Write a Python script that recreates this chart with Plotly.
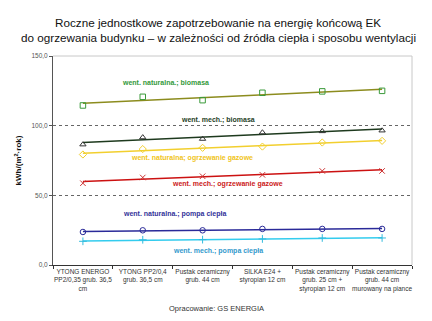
import numpy as np
import plotly.graph_objects as go

categories = [
    "YTONG ENERGO<br>PP2/0,35 grub. 36,5<br>cm",
    "YTONG PP2/0,4<br>grub. 36,5 cm",
    "Pustak ceramiczny<br>grub. 44 cm",
    "SILKA E24 +<br>styropian 12 cm",
    "Pustak ceramiczny<br>grub. 25 cm +<br>styropian 12 cm",
    "Pustak ceramiczny<br>grub. 44 cm<br>murowany na piance",
]

nat_biomasa = [114.5, 120.7, 118.3, 123.6, 124.6, 125.0]
mech_biomasa = [86.5, 91.6, 90.5, 95.1, 96.0, 96.5]
nat_gaz = [79.3, 83.2, 84.1, 85.0, 87.9, 89.1]
mech_gaz = [58.7, 62.8, 63.7, 64.7, 67.5, 67.5]
nat_pompa = [23.7, 24.9, 24.9, 25.9, 25.9, 25.9]
mech_pompa = [17.0, 18.1, 18.2, 18.7, 19.4, 19.4]

title_lines = [
    "Roczne jednostkowe zapotrzebowanie na energię końcową EK",
    "do ogrzewania budynku – w zależności od źródła ciepła i sposobu wentylacji",
]

series = [
    ("went. naturalna.; biomasa", nat_biomasa, "square-open", "#3a9a3a", "#8c8c1e", "#33993a", 165, 83),
    ("went. mech.; biomasa", mech_biomasa, "triangle-up-open", "#333333", "#1e3a1e", "#1f3f1f", 218, 120),
    ("went. naturalna; ogrzewanie gazowe", nat_gaz, "diamond-open", "#f2cf2e", "#f2cf2e", "#f0c419", 192, 158),
    ("went. mech.; ogrzewanie gazowe", mech_gaz, "x-thin-open", "#cc3333", "#cc1111", "#cc2222", 227, 184),
    ("went. naturalna.; pompa ciepła", nat_pompa, "circle-open", "#2a2a99", "#2a2a99", "#333399", 174, 214),
    ("went. mech.; pompa ciepła", mech_pompa, "cross-thin-open", "#33bbdd", "#33ccee", "#3399cc", 218, 251),
]

FONT = "Liberation Sans, Arial, sans-serif"
PLOT_TOP, PLOT_BOTTOM, PLOT_LEFT, PLOT_RIGHT = 56, 265, 53, 412
PH = PLOT_BOTTOM - PLOT_TOP
PW = PLOT_RIGHT - PLOT_LEFT


def px_to_paper(px, py):
    return (px - PLOT_LEFT) / PW, (PLOT_BOTTOM - py) / PH


fig = go.Figure()
idx = np.arange(len(categories))
annotations = []
for name, vals, sym, mcol, lcol, tcol, lx, ly in series:
    k, b = np.polyfit(idx, vals, 1)
    trend = k * idx + b
    fig.add_trace(go.Scatter(x=categories, y=trend, mode="lines",
                             line=dict(color=lcol, width=1.5), showlegend=False, hoverinfo="skip"))
    fig.add_trace(go.Scatter(x=categories, y=vals, mode="markers", name=name,
                             marker=dict(symbol=sym, size=5.5, color=mcol, line=dict(color=mcol, width=1)),
                             showlegend=False))
    ax, ay = px_to_paper(lx, ly)
    annotations.append(dict(text=f"<b>{name}</b>", x=ax, y=ay, xref="paper", yref="paper",
                            xanchor="center", yanchor="middle",
                            showarrow=False, font=dict(family=FONT, size=7, color=tcol)))

fx, fy = px_to_paper(216, 308)
annotations.append(dict(text="Opracowanie: GS ENERGIA", x=fx, y=fy, xref="paper", yref="paper",
                        xanchor="center", yanchor="middle",
                        showarrow=False, font=dict(family=FONT, size=7.5, color="#333333")))
for line_text, py in zip(title_lines, [23, 37]):
    tx, ty = px_to_paper(218, py)
    annotations.append(dict(text=line_text, x=tx, xref="paper", xanchor="center",
                            y=ty, yref="paper", yanchor="middle", showarrow=False,
                            font=dict(family=FONT, size=11.7, color="#111111")))

fig.update_layout(
    width=432, height=321,
    margin=dict(l=PLOT_LEFT, r=432 - PLOT_RIGHT, t=PLOT_TOP, b=321 - PLOT_BOTTOM),
    paper_bgcolor="white", plot_bgcolor="white",
    separators=", ",
    font=dict(family=FONT, size=7, color="#333333"),
    annotations=annotations,
    xaxis=dict(type="category", range=[-0.5, 5.5], showline=True, linecolor="#333333", linewidth=1,
               ticks="outside", tickson="boundaries", ticklen=3, tickcolor="#333333",
               showgrid=False, tickangle=0, automargin=False,
               tickfont=dict(size=6.5, color="#333333")),
    yaxis=dict(range=[0, 150], tickvals=[0, 50, 100, 150], tickformat=".1f",
               showline=True, linecolor="#555555", linewidth=1, ticks="outside", ticklen=3,
               tickcolor="#555555", showgrid=False, zeroline=False, automargin=False,
               tickfont=dict(size=6.5, color="#555555"),
               title=dict(text="<b>kWh/(m<sup>2</sup>·rok)</b>", font=dict(size=8, color="#111111"), standoff=8)),
    yaxis2=dict(range=[0, 150], overlaying="y", tickvals=[50, 100], showticklabels=False,
                showgrid=True, gridcolor="#666666", griddash="dot", gridwidth=1, zeroline=False,
                showline=False, automargin=False),
    shapes=[
        dict(type="line", xref="paper", yref="paper", x0=0, x1=1, y0=1, y1=1,
             line=dict(color="#c8c8c8", width=1)),
        dict(type="line", xref="paper", yref="paper", x0=1, x1=1, y0=0, y1=1,
             line=dict(color="#c8c8c8", width=1)),
    ],
)
fig.add_trace(go.Scatter(x=[categories[0]], y=[None], yaxis="y2", showlegend=False, hoverinfo="skip"))

fig.write_html("out.html")
